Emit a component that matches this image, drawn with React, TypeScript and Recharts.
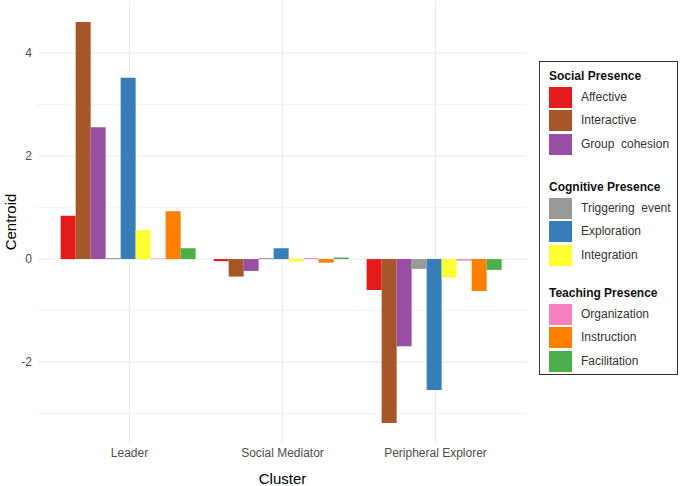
import React from "react";
import { BarChart, Bar, XAxis, YAxis, CartesianGrid } from "recharts";

const clusters = ["Leader", "Social Mediator", "Peripheral Explorer"];

const affective = [0.84, -0.04, -0.6];
const interactive = [4.6, -0.34, -3.18];
const groupCohesion = [2.56, -0.23, -1.69];
const triggeringEvent = [0.02, 0.02, -0.19];
const exploration = [3.52, 0.21, -2.54];
const integration = [0.56, -0.05, -0.36];
const organization = [0.01, 0.02, -0.03];
const instruction = [0.93, -0.07, -0.62];
const facilitation = [0.21, 0.03, -0.21];

const yTicks = [-2, 0, 2, 4];
const yMinorTicks = [-3, -1, 1, 3];

const series = [
  { key: "affective", name: "Affective", color: "#E41A1C", values: affective },
  { key: "interactive", name: "Interactive", color: "#A65628", values: interactive },
  { key: "groupCohesion", name: "Group  cohesion", color: "#984EA3", values: groupCohesion },
  { key: "triggeringEvent", name: "Triggering  event", color: "#999999", values: triggeringEvent },
  { key: "exploration", name: "Exploration", color: "#377EB8", values: exploration },
  { key: "integration", name: "Integration", color: "#FFFF33", values: integration },
  { key: "organization", name: "Organization", color: "#F781BF", values: organization },
  { key: "instruction", name: "Instruction", color: "#FF7F00", values: instruction },
  { key: "facilitation", name: "Facilitation", color: "#4DAF4A", values: facilitation },
];

const groups = [
  { title: "Social Presence", keys: ["affective", "interactive", "groupCohesion"], top: 5 },
  { title: "Cognitive Presence", keys: ["triggeringEvent", "exploration", "integration"], top: 116 },
  { title: "Teaching Presence", keys: ["organization", "instruction", "facilitation"], top: 222 },
];

const data = clusters.map((c, i) => {
  const row: any = { cluster: c };
  series.forEach((s) => {
    row[s.key] = s.values[i];
  });
  return row;
});

const font = '"Liberation Sans", Arial, sans-serif';
const xPad = 15;

// vertical grid lines only at the category centres (no lines at the plot edges)
const centreLines = (props: any) => {
  try {
    const sc = props?.xAxis?.scale;
    if (typeof sc === "function") {
      const bw = typeof sc.bandwidth === "function" ? sc.bandwidth() : 0;
      const pts = clusters.map((c) => sc(c) + bw / 2);
      if (pts.every((p) => Number.isFinite(p))) return pts;
    }
  } catch (e) {}
  const off = props?.offset;
  if (!off) return [];
  const band = (off.width - 2 * xPad) / clusters.length;
  return clusters.map((_, i) => off.left + xPad + band * (i + 0.5));
};

function LegendBox() {
  return (
    <div
      style={{
        position: "absolute",
        left: 539,
        top: 61,
        width: 139,
        height: 314,
        border: "1px solid #333",
        boxSizing: "border-box",
        fontFamily: font,
        background: "#fff",
      }}
    >
      {groups.map((g) => (
        <div key={g.title}>
          <div
            style={{
              position: "absolute",
              left: 9,
              top: g.top,
              lineHeight: "18px",
              fontSize: 12,
              fontWeight: "bold",
              color: "#111",
            }}
          >
            {g.title}
          </div>
          {g.keys.map((k, j) => {
            const s = series.find((x) => x.key === k)!;
            const top = g.top + 20 + j * 23.3;
            return (
              <div key={k}>
                <div
                  style={{
                    position: "absolute",
                    left: 9,
                    top,
                    width: 23,
                    height: 21,
                    background: s.color,
                  }}
                />
                <div
                  style={{
                    position: "absolute",
                    left: 41,
                    top,
                    lineHeight: "21px",
                    fontSize: 12,
                    color: "#333",
                    whiteSpace: "pre",
                  }}
                >
                  {s.name}
                </div>
              </div>
            );
          })}
        </div>
      ))}
    </div>
  );
}

export default function App() {
  return (
    <div
      style={{
        position: "fixed",
        left: 0,
        top: 0,
        width: 685,
        height: 486,
        background: "#fff",
        fontFamily: font,
      }}
    >
      <BarChart
        width={530}
        height={486}
        data={data}
        margin={{ top: 2, right: 3, left: 0, bottom: 0 }}
        barCategoryGap="5%"
        barGap={0}
      >
        <CartesianGrid
          stroke="#EBEBEB"
          strokeWidth={0.6}
          vertical={false}
          horizontalValues={yMinorTicks}
        />
        <CartesianGrid
          stroke="#EBEBEB"
          strokeWidth={1.1}
          horizontalValues={yTicks}
          verticalCoordinatesGenerator={centreLines}
        />
        <XAxis
          dataKey="cluster"
          height={43}
          padding={{ left: xPad, right: xPad }}
          axisLine={false}
          tickLine={false}
          tickSize={0}
          tickMargin={5}
          tick={{ fontSize: 12, fill: "#4D4D4D", fontFamily: font }}
          label={{
            value: "Cluster",
            position: "insideBottom",
            offset: 2,
            fontSize: 15,
            fill: "#000",
            fontFamily: font,
          }}
        />
        <YAxis
          width={38}
          domain={[-3.57, 4.99]}
          ticks={yTicks}
          axisLine={false}
          tickLine={false}
          tickSize={0}
          tickMargin={6}
          tick={{ fontSize: 12, fill: "#4D4D4D", fontFamily: font }}
          allowDataOverflow
        />
        {series.map((s) => (
          <Bar key={s.key} dataKey={s.key} fill={s.color} isAnimationActive={false} />
        ))}
      </BarChart>
      <div
        style={{
          position: "absolute",
          left: 10,
          top: 222,
          transform: "translate(-50%, -50%) rotate(-90deg)",
          fontSize: 15,
          color: "#000",
          whiteSpace: "nowrap",
        }}
      >
        Centroid
      </div>
      <LegendBox />
    </div>
  );
}
